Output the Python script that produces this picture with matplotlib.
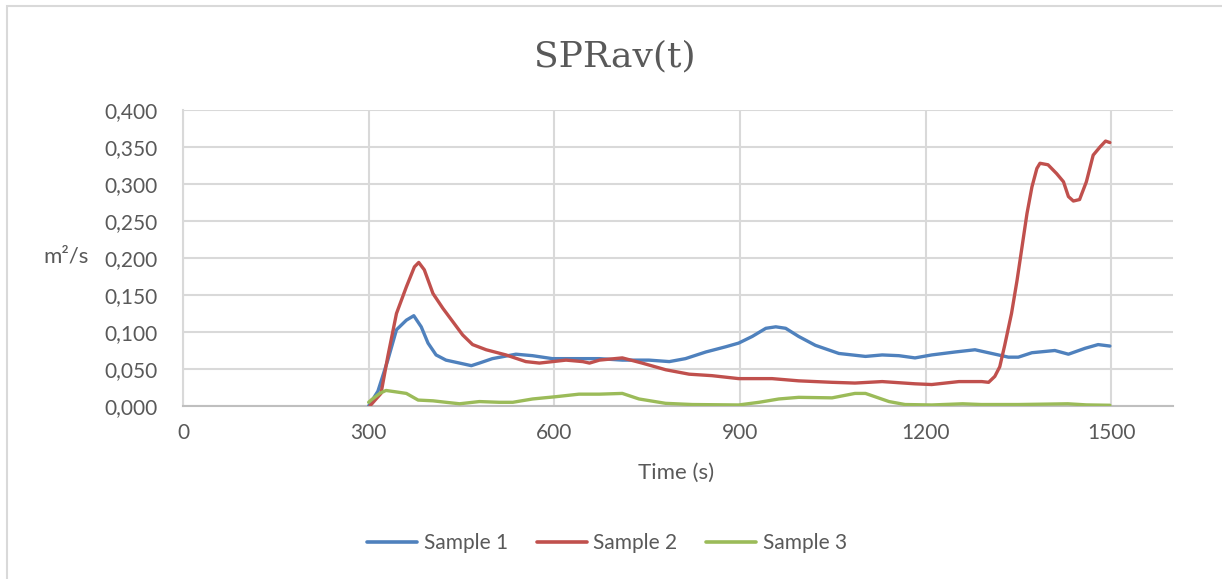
import matplotlib
matplotlib.use("Agg")
import matplotlib.pyplot as plt
from matplotlib.patches import Rectangle
from matplotlib.ticker import FuncFormatter

# Values
t1 = [300, 315, 331, 345, 361, 373, 385, 396, 409, 425, 447, 466, 479, 500, 538, 565, 597,
      673, 710, 753, 786, 812, 845, 877, 898, 920, 942, 958, 974, 995, 1022, 1060, 1103,
      1130, 1157, 1183, 1210, 1248, 1280, 1307, 1334, 1350, 1372, 1409, 1431, 1458, 1479, 1498]
s1 = [0.000, 0.020, 0.062, 0.103, 0.116, 0.122, 0.107, 0.085, 0.069, 0.062, 0.058, 0.0545,
      0.058, 0.064, 0.070, 0.068, 0.064, 0.064, 0.062, 0.062, 0.060, 0.064, 0.073, 0.080,
      0.085, 0.094, 0.105, 0.107, 0.105, 0.094, 0.082, 0.071, 0.067, 0.069, 0.068, 0.065,
      0.069, 0.073, 0.076, 0.071, 0.066, 0.066, 0.072, 0.075, 0.070, 0.078, 0.083, 0.081]

t2 = [302, 320, 331, 345, 361, 374, 381, 390, 404, 420, 436, 452, 468, 490, 522, 554, 576,
      619, 646, 657, 673, 710, 742, 780, 818, 855, 898, 952, 995, 1049, 1086, 1130, 1183,
      1210, 1254, 1291, 1302, 1312, 1320, 1328, 1339, 1348, 1356, 1364, 1372, 1380, 1385,
      1398, 1412, 1423, 1431, 1439, 1449, 1460, 1471, 1482, 1491, 1498]
s2 = [0.000, 0.017, 0.067, 0.125, 0.161, 0.188, 0.194, 0.184, 0.152, 0.132, 0.114, 0.096,
      0.083, 0.076, 0.069, 0.060, 0.058, 0.062, 0.060, 0.058, 0.062, 0.065, 0.058, 0.049,
      0.043, 0.041, 0.037, 0.037, 0.034, 0.032, 0.031, 0.033, 0.030, 0.029, 0.033, 0.033,
      0.032, 0.040, 0.053, 0.082, 0.125, 0.170, 0.215, 0.260, 0.296, 0.321, 0.328, 0.326,
      0.314, 0.303, 0.283, 0.277, 0.279, 0.303, 0.339, 0.350, 0.358, 0.356]

t3 = [300, 304, 318, 328, 345, 361, 380, 404, 425, 447, 479, 511, 533, 565, 603, 640, 673,
      710, 737, 780, 823, 898, 931, 963, 995, 1049, 1086, 1103, 1141, 1167, 1210, 1260,
      1290, 1350, 1430, 1460, 1498]
s3 = [0.005, 0.008, 0.017, 0.021, 0.019, 0.017, 0.008, 0.007, 0.005, 0.003, 0.006, 0.005,
      0.005, 0.0095, 0.0126, 0.016, 0.016, 0.017, 0.0095, 0.0036, 0.002, 0.0014, 0.005,
      0.0095, 0.0117, 0.011, 0.017, 0.017, 0.006, 0.002, 0.0014, 0.003, 0.002, 0.002,
      0.003, 0.0015, 0.001]

names = ["Sample 1", "Sample 2", "Sample 3"]
colors = ["#4F81BD", "#C0504D", "#9BBB59"]
x_ticks = [0, 300, 600, 900, 1200, 1500]
y_ticks = [0.0, 0.05, 0.1, 0.15, 0.2, 0.25, 0.3, 0.35, 0.4]

text_col = "#595959"
grid_col = "#D9D9D9"
plt.rcParams["font.family"] = ["Lato", "DejaVu Sans"]

fig = plt.figure(figsize=(12.22, 5.79), dpi=100)
ax = fig.add_axes([183 / 1222, 1 - 406 / 579, 990 / 1222, 296 / 579])

for t, s, name, c in zip([t1, t2, t3], [s1, s2, s3], names, colors):
    ax.plot(t, s, color=c, lw=2.4, label=name, solid_capstyle="round",
            solid_joinstyle="round", zorder=3)

ax.set_xlim(0, 1600)
ax.set_ylim(0, 0.4)
ax.set_xticks(x_ticks)
ax.set_yticks(y_ticks)
ax.yaxis.set_major_formatter(FuncFormatter(lambda v, p: f"{v:.3f}".replace(".", ",")))
ax.grid(True, color=grid_col, lw=1.5, zorder=0)
ax.set_axisbelow(True)
for side in ["top", "right"]:
    ax.spines[side].set_visible(False)
ax.spines["left"].set_color(grid_col)
ax.spines["left"].set_linewidth(1.5)
ax.spines["bottom"].set_color("#BFBFBF")
ax.spines["bottom"].set_linewidth(1.5)
ax.tick_params(axis="both", length=0, labelsize=15, labelcolor=text_col)
ax.tick_params(axis="x", pad=12)
ax.tick_params(axis="y", pad=18)

fig.text(615 / 1222, 1 - 56 / 579, "SPRav(t)", family="DejaVu Serif", fontsize=26,
         color=text_col, ha="center", va="center")
fig.text(66 / 1222, 1 - 257 / 579, "m²/s", fontsize=16, color=text_col,
         ha="center", va="center")
fig.text(676 / 1222, 1 - 473 / 579, "Time (s)", fontsize=16, color=text_col,
         ha="center", va="center")

leg = fig.legend(loc="center", bbox_to_anchor=(607 / 1222, 1 - 543 / 579), ncol=3,
                 frameon=False, fontsize=15, handlelength=2.4, handletextpad=0.3,
                 columnspacing=1.4, labelcolor=text_col)
for line in leg.get_lines():
    line.set_linewidth(2.6)

fig.patches.append(Rectangle((7 / 1222, -0.05), 1.1, 1.05 - 6 / 579,
                             transform=fig.transFigure, fill=False,
                             edgecolor=grid_col, lw=1.5))

fig.savefig("out.png", dpi=100)
